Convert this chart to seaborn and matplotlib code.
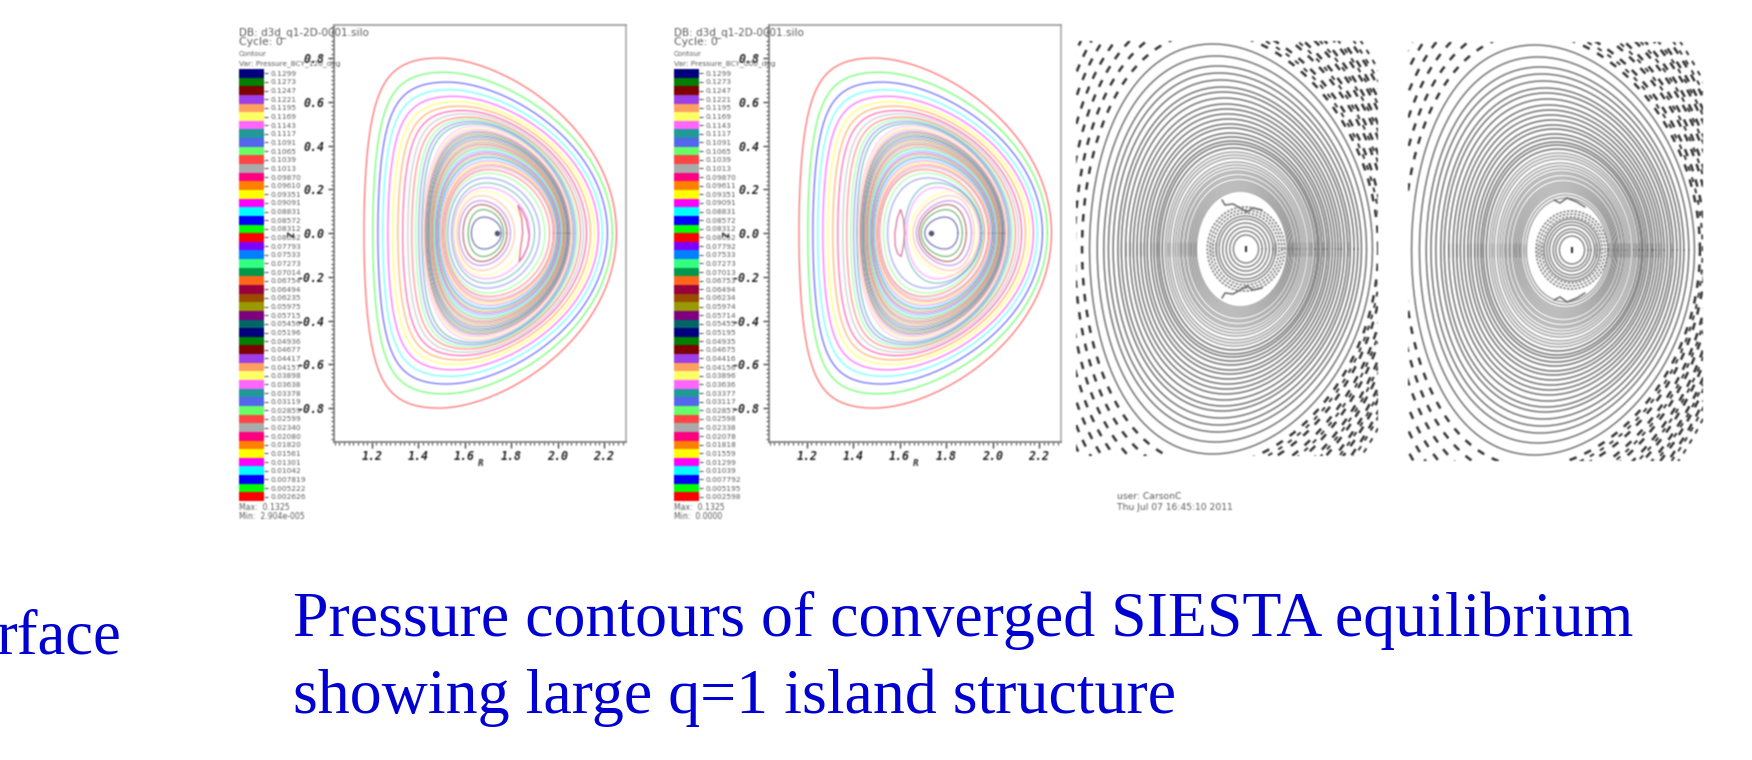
import numpy as np
import pandas as pd
import seaborn as sns
import matplotlib.pyplot as plt
from matplotlib.colors import ListedColormap
from matplotlib.ticker import AutoMinorLocator, FormatStrFormatter

# legend levels, top to bottom
labels_a = ['0.1299', '0.1273', '0.1247', '0.1221', '0.1195', '0.1169', '0.1143', '0.1117', '0.1091', '0.1065',
            '0.1039', '0.1013', '0.09870', '0.09610', '0.09351', '0.09091', '0.08831', '0.08572', '0.08312', '0.08052',
            '0.07793', '0.07533', '0.07273', '0.07014', '0.06754', '0.06494', '0.06235', '0.05975', '0.05715', '0.05456',
            '0.05196', '0.04936', '0.04677', '0.04417', '0.04157', '0.03898', '0.03638', '0.03378', '0.03119', '0.02859',
            '0.02599', '0.02340', '0.02080', '0.01820', '0.01561', '0.01301', '0.01042', '0.007819', '0.005222', '0.002626']
labels_b = ['0.1299', '0.1273', '0.1247', '0.1221', '0.1195', '0.1169', '0.1143', '0.1117', '0.1091', '0.1065',
            '0.1039', '0.1013', '0.09870', '0.09611', '0.09351', '0.09091', '0.08831', '0.08572', '0.08312', '0.08052',
            '0.07792', '0.07533', '0.07273', '0.07013', '0.06753', '0.06494', '0.06234', '0.05974', '0.05714', '0.05455',
            '0.05195', '0.04935', '0.04675', '0.04416', '0.04156', '0.03896', '0.03636', '0.03377', '0.03117', '0.02857',
            '0.02598', '0.02338', '0.02078', '0.01818', '0.01559', '0.01299', '0.01039', '0.007792', '0.005195', '0.002598']
color_cycle = ['#00007f', '#007f00', '#7f0000', '#9c3fe8', '#ffa060', '#ffff66', '#ff66ff', '#229999', '#5566ee', '#66ff66',
               '#ff4444', '#aaaaaa', '#ff0080', '#ff8000', '#ffff00', '#ff00ff', '#00ffff', '#0000ff', '#00ff00', '#ff0000',
               '#7f00ff', '#0080ff', '#33ff80', '#00994c', '#ff661a', '#99003d', '#994c00', '#999900', '#7f007f', '#006666']
level_colors = (color_cycle * 2)[:50]

# contour extents, outermost (lowest level) to innermost: left R, right R, half height Z
edge_left = [1.166, 1.204, 1.226, 1.247, 1.269, 1.290, 1.312, 1.333, 1.355, 1.372, 1.389, 1.402, 1.415,
             1.419, 1.423, 1.426, 1.430, 1.433, 1.437, 1.441, 1.444, 1.448, 1.451, 1.455, 1.459, 1.462,
             1.466, 1.469, 1.473, 1.477, 1.480, 1.484, 1.487, 1.491, 1.495, 1.498, 1.502, 1.505, 1.509,
             1.514, 1.521, 1.528, 1.543, 1.550, 1.557, 1.567, 1.576, 1.593, 1.615, 1.629]
edge_right = [2.254, 2.236, 2.215, 2.193, 2.176, 2.159, 2.142, 2.125, 2.112, 2.099, 2.086, 2.077, 2.069,
              2.064, 2.061, 2.057, 2.054, 2.050, 2.047, 2.044, 2.040, 2.037, 2.033, 2.030, 2.027, 2.023,
              2.020, 2.016, 2.013, 2.010, 2.006, 2.003, 2.000, 1.996, 1.993, 1.989, 1.986, 1.983, 1.979,
              1.966, 1.945, 1.923, 1.901, 1.880, 1.851, 1.815, 1.797, 1.782, 1.768, 1.758]
half_height = [.800, .735, .690, .655, .625, .600, .580, .560, .545, .530, .520, .510, .500,
               .490, .482, .475, .467, .460, .452, .444, .437, .429, .422, .414, .406, .399,
               .391, .384, .376, .368, .361, .353, .346, .338, .330, .323, .315, .308, .300,
               .290, .274, .252, .229, .209, .191, .171, .148, .130, .107, .073]
shape_tri = [.42, .42, .41, .40, .39, .38, .37, .36, .35, .34, .33, .32, .31,
             .30, .29, .29, .28, .27, .27, .26, .25, .25, .24, .23, .23, .22,
             .21, .21, .20, .19, .19, .18, .17, .17, .16, .15, .15, .14, .13,
             .15, .15, .15, .15, .15, .15, .15, .15, .15, .15, .15]
shape_square = [.12] * 13 + [0] * 37

# panel b: inner contours sit on the other side of the magnetic axis
edge_left_b = [1.514, 1.530, 1.548, 1.620, 1.630, 1.643, 1.658, 1.672, 1.683, 1.693, 1.708]
edge_right_b = [1.966, 1.960, 1.955, 1.950, 1.945, 1.935, 1.920, 1.909, 1.887, 1.870, 1.851]

island_r_a = [1.830, 1.845, 1.866, 1.878, 1.872, 1.853, 1.835, 1.842, 1.850, 1.846, 1.830]
island_z_a = [.125, .105, .060, -.010, -.060, -.105, -.130, -.060, .000, .065, .125]
island_r_b = [1.604, 1.590, 1.579, 1.581, 1.592, 1.606, 1.616, 1.622, 1.616, 1.604]
island_z_b = [.107, .070, .000, -.060, -.095, -.107, -.060, .000, .065, .107]
axis_point = [1.74, 1.737]

# field line plots: half heights of the closed rings, px from axis
closed_rings = [205, 193, 183, 176, 169, 162, 157, 151, 145, 140, 135, 130, 125, 121, 116, 112, 108, 105, 101, 97, 94,
                91, 87, 84, 81, 78, 76, 73, 71, 68, 66, 64, 62, 60, 58]
closed_rings_d = closed_rings + [55, 52]
core_rings_c = [33, 30, 26, 22, 18, 14]
core_rings_d = [31, 28, 25, 21, 18, 14]
chaos_rings_c = [36, 39, 42]
chaos_rings_d = [33, 36, 39]
open_rings = [217, 229, 241, 253, 265, 277, 289, 301, 313]
open_rings_right = [223, 247, 271, 295, 319, 331]
curl_x_c = [-24, -21, -13, -4, 1, 7, 16]
curl_y_c = [49, 44, 45, 40, 37, 41, 39]
curl_x_d = [-18, -12, -5, 5, 13]
curl_y_d = [50, 47, 52, 48, 43]

y_ticks = [-.8, -.6, -.4, -.2, 0, .2, .4, .6, .8]
x_ticks = [1.2, 1.4, 1.6, 1.8, 2.0, 2.2]

sns.set_theme(style='white')
plt.rcParams['font.family'] = ['DejaVu Sans']

W, H = 1752, 760
fig = plt.figure(figsize=(W / 100, H / 100), dpi=100)
GREY = '#5a5a5a'
BLUE = '#0000d2'


def soften(img, dpi):
    # the slide pictures are blurry screenshots
    pad = 4
    img = np.pad(img, ((pad, pad), (pad, pad), (0, 0)))
    a = img[..., 3:]
    pm = np.concatenate([img[..., :3] * a, a], axis=2)
    for axis in (0, 1):
        pm = (np.roll(pm, 1, axis) + 2 * pm + np.roll(pm, -1, axis)) / 4
    out = pm.copy()
    out[..., :3] = pm[..., :3] / np.maximum(pm[..., 3:], 1e-4)
    return np.clip(out, 0, 1), -pad, -pad


def box(x0, y0, x1, y1):
    ax = fig.add_axes([x0 / W, 1 - y1 / H, (x1 - x0) / W, (y1 - y0) / H])
    ax.set_agg_filter(soften)
    return ax


def label(x, y, s, blur=True, **kw):
    kw.setdefault('color', GREY)
    t = fig.text(x / W, 1 - y / H, s, va='baseline', **kw)
    if blur:
        t.set_agg_filter(soften)


def miller(left, right, z, tri, square):
    t = np.linspace(0, 2 * np.pi, 240)
    r0, a = (left + right) / 2, (right - left) / 2
    corner = square * np.sin(2 * t) * (np.cos(t) < 0)
    # less triangular on the low field side
    skew = tri * (1 - .25 * np.maximum(np.cos(t), 0))
    return r0 + a * np.cos(t + skew * np.sin(t)), z * np.sin(t + corner)


def contour_panel(x0, labels, var_name, flip):
    # x0 is the pixel column of the left frame edge
    left = list(edge_left)
    right = list(edge_right)
    tri = list(shape_tri)
    if flip:
        left[39:] = edge_left_b
        right[39:] = edge_right_b
        tri[44:] = [-.2] * 6
    frames = []
    for i in range(50):
        r, z = miller(left[i], right[i], half_height[i], tri[i], shape_square[i])
        band = 'outer' if i < 13 else 'dense' if i < 39 else 'core'
        frames.append(pd.DataFrame({'R': r, 'Z': z, 'level': i, 'band': band}))
    df = pd.concat(frames)
    palette = {i: level_colors[49 - i] for i in range(50)}

    ax = box(x0, 25, x0 + 292, 442)
    for band, lw, alpha in [('outer', .8, .65), ('dense', .55, .55), ('core', .8, .6)]:
        sns.lineplot(data=df[df['band'] == band], x='R', y='Z', hue='level', units='level', estimator=None,
                     sort=False, palette=palette, legend=False, lw=lw, alpha=alpha, ax=ax)
    if flip:
        sns.lineplot(x=island_r_b, y=island_z_b, sort=False, estimator=None, color='#e070a0', lw=.9, ax=ax)
    else:
        sns.lineplot(x=island_r_a, y=island_z_a, sort=False, estimator=None, color='#e070a0', lw=.9, ax=ax)
    sns.scatterplot(x=[axis_point[flip]], y=[0], s=18, color='#555577', ax=ax, zorder=5)

    ax.set_xlim(1.037, 2.295)
    ax.set_ylim(-.955, .951)
    ax.set_xticks(x_ticks)
    ax.set_yticks(y_ticks)
    ax.xaxis.set_minor_locator(AutoMinorLocator(10))
    ax.yaxis.set_minor_locator(AutoMinorLocator(10))
    ax.xaxis.set_major_formatter(FormatStrFormatter('%.1f'))
    ax.yaxis.set_major_formatter(FormatStrFormatter('%.1f'))
    ax.tick_params(which='major', bottom=True, left=True, length=4, width=1, color='#444444', pad=3)
    ax.tick_params(which='minor', bottom=True, left=True, length=2.4, width=.8, color='#555555')
    for t in ax.get_xticklabels() + ax.get_yticklabels():
        t.set(family='DejaVu Sans Mono', weight='bold', style='oblique', fontsize=8.4, color='#222222')
    ax.tick_params(axis='x', pad=2)
    ax.set_xlabel('')
    ax.set_ylabel('')
    for side, c in [('left', '#777777'), ('bottom', '#777777'), ('top', '#999999'), ('right', '#aaaaaa')]:
        ax.spines[side].set_color(c)
        ax.spines[side].set_linewidth(1.2)
        ax.spines[side].set_visible(True)

    # colour legend
    lx = x0 - 95
    leg = box(lx, 69, lx + 25, 501)
    sns.heatmap(np.arange(50)[:, None], cmap=ListedColormap(level_colors), cbar=False,
                xticklabels=False, yticklabels=labels, ax=leg)
    leg.yaxis.tick_right()
    leg.tick_params(axis='y', right=True, left=False, length=3, width=.8, color='#555555', pad=2, labelsize=5.3,
                    labelcolor=GREY, labelrotation=0)

    label(lx, 35, 'DB: d3d_q1-2D-0001.silo', fontsize=7.5)
    label(lx, 45, 'Cycle: 0', fontsize=7.8)
    label(lx, 56, 'Contour', fontsize=5)
    label(lx, 65, var_name, fontsize=5.3)
    label(lx, 510, 'Max:  0.1325', fontsize=5.6)
    label(lx, 519, 'Min:  0.0000' if flip else 'Min:  2.904e-005', fontsize=5.6)
    label(x0 - 46, 236, 'Z', fontsize=5.5, weight='bold', style='italic', rotation=90, color='#333333')
    label(x0 + 144, 466, 'R', fontsize=5.5, weight='bold', style='italic', color='#333333')


def ring(h, shift, aspect=None, span=(0, 2 * np.pi)):
    t = np.linspace(span[0], span[1], 360)
    if aspect is None:
        aspect = .82 - .13 * h / 205
    return -shift * h / 205 + h * aspect * np.cos(t + .13 * h / 205 * np.sin(t)), h * np.sin(t)


def ring_frame(heights, shift, aspect=None, span=(0, 2 * np.pi)):
    frames = []
    for h in heights:
        x, y = ring(h, shift, aspect, span)
        frames.append(pd.DataFrame({'x': x, 'y': y, 'h': h}))
    return pd.concat(frames)


def field_panel(x0, y0, x1, y1, cx, cy, shift, closed, core, chaos, curl_x, curl_y):
    ax = box(x0, y0, x1, y1)
    ax.set_xlim(x0 - cx, x1 - cx)
    ax.set_ylim(cy - y1, cy - y0)

    kw = dict(x='x', y='y', units='h', estimator=None, sort=False, legend=False, ax=ax)
    outer = [h for h in closed if h >= 100]
    inner = [h for h in closed if h < 100]
    sns.lineplot(data=ring_frame(outer, shift), color='#666666', lw=1.0, **kw)
    sns.lineplot(data=ring_frame(inner, shift), color='#808080', lw=.75, **kw)
    sns.lineplot(data=ring_frame(core, 0, .9), color='#707070', lw=.9, **kw)
    sns.lineplot(data=ring_frame(chaos, 0, .92), color='#707070', lw=1.1, linestyle=(0, (1.5, 1)), **kw)
    sns.lineplot(data=ring_frame(open_rings, shift), color='#333333', lw=1.8, linestyle=(0, (3, 3.4)), **kw)
    sns.lineplot(data=ring_frame(open_rings_right, shift, span=(-1.25, 1.25)), color='#333333', lw=1.4,
                 linestyle=(0, (2.5, 3.5)), **kw)

    # island curls, top and bottom of the gap
    sns.lineplot(x=curl_x, y=curl_y, sort=False, estimator=None, color='#666666', lw=1.1, ax=ax)
    sns.lineplot(x=curl_x, y=[-v for v in curl_y], sort=False, estimator=None, color='#666666', lw=1.1, ax=ax)

    # rings pile up in the sampling along the midplane
    marks = [h for h in closed + chaos if h < 160]
    right_x = [ring(h, shift)[0][0] for h in marks]
    left_x = [ring(h, shift)[0][180] for h in marks]
    sns.scatterplot(x=right_x + left_x, y=[0] * (2 * len(marks)), marker='|', s=110, color='#888888',
                    linewidth=.9, alpha=.4, ax=ax)
    sns.scatterplot(x=[0], y=[0], marker='|', s=22, color='#333333', linewidth=1.5, ax=ax)

    ax.set_xlabel('')
    ax.set_ylabel('')
    ax.set_xticks([])
    ax.set_yticks([])
    sns.despine(ax=ax, left=True, bottom=True)


contour_panel(334, labels_a, 'Var: Pressure_BCY_120_deg', 0)
contour_panel(769, labels_b, 'Var: Pressure_BCY_000_deg', 1)
field_panel(1076, 41, 1378, 456, 1246, 249, 15, closed_rings, core_rings_c, chaos_rings_c, curl_x_c, curl_y_c)
field_panel(1408, 42, 1703, 461, 1572, 250, 19, closed_rings_d, core_rings_d, chaos_rings_d, curl_x_d, curl_y_d)

label(1117, 499, 'user: CarsonC', fontsize=6.6)
label(1117, 510, 'Thu Jul 07 16:45:10 2011', fontsize=6.6)

serif = dict(family='Liberation Serif', color=BLUE, blur=False)
label(-3, 654, 'rface', fontsize=45, **serif)
label(293, 636, 'Pressure contours of converged SIESTA equilibrium', fontsize=46, **serif)
label(293, 713, 'showing large q=1 island structure', fontsize=46, **serif)

fig.savefig('out.png', dpi=100)
